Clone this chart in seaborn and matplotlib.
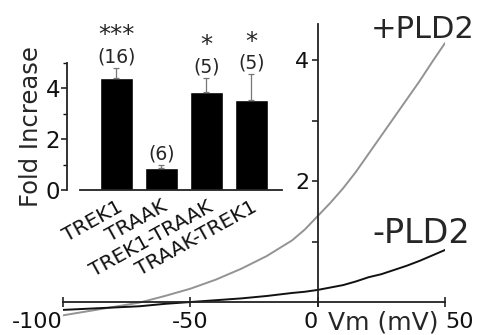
import matplotlib
matplotlib.use("Agg")
import matplotlib.pyplot as plt
import pandas as pd
import seaborn as sns

# I-V traces (mV, current in arbitrary units)
voltage = [-100, -90, -80, -70, -60, -50, -40, -30, -20, -10, -5, 0,
           5, 10, 15, 20, 25, 30, 35, 40, 45, 50]
plus_pld2 = [-0.22, -0.15, -0.08, -0.01, 0.10, 0.22, 0.37, 0.55, 0.76, 1.02, 1.20, 1.42,
             1.64, 1.88, 2.15, 2.45, 2.75, 3.05, 3.35, 3.65, 3.97, 4.28]
minus_pld2 = [-0.13, -0.11, -0.09, -0.07, -0.03, 0.00, 0.03, 0.06, 0.10, 0.15, 0.17, 0.20,
              0.24, 0.28, 0.34, 0.41, 0.46, 0.53, 0.60, 0.68, 0.77, 0.86]

# inset bar chart
constructs = ["TREK1", "TRAAK", "TREK1-TRAAK", "TRAAK-TREK1"]
fold_increase = [4.4, 0.86, 3.85, 3.55]
fold_sem = [0.4, 0.12, 0.55, 1.0]
n_cells = ["(16)", "(6)", "(5)", "(5)"]
significance = ["***", "", "*", "*"]

sns.set_theme(style="white")
plt.rcParams["font.family"] = ["DejaVu Sans"]

fig = plt.figure(figsize=(4.82, 3.35), dpi=100)

# main I-V plot
ax = fig.add_axes([0.1307, 0.0352, 0.7925, 0.894])
ax.patch.set_alpha(0)
traces = pd.DataFrame({
    "Vm": voltage + voltage,
    "I": plus_pld2 + minus_pld2,
    "cond": ["+PLD2"] * len(voltage) + ["-PLD2"] * len(voltage),
})
sns.lineplot(data=traces, x="Vm", y="I", hue="cond",
             palette={"+PLD2": "#939393", "-PLD2": "#111111"},
             linewidth=1.4, legend=False, ax=ax)
ax.set_xlim(-100, 50)
ax.set_ylim(-0.35, 4.6)
ax.set_xlabel("")
ax.set_ylabel("")
for side in ["top", "right"]:
    ax.spines[side].set_visible(False)
ax.spines["left"].set_position(("data", 0))
ax.spines["bottom"].set_position(("data", 0))
ax.spines["left"].set_bounds(-0.06, 4.6)
for side in ["left", "bottom"]:
    ax.spines[side].set_color("#222222")
    ax.spines[side].set_linewidth(1.3)

ax.set_xticks([-100, -50, 0, 50])
ax.set_xticklabels(["-100", "-50", "0", "50"])
for lab, ha in zip(ax.get_xticklabels(), ["right", "center", "right", "left"]):
    lab.set_ha(ha)
ax.set_yticks([1, 2, 3, 4])
ax.set_yticklabels(["", "2", "", "4"])
ax.tick_params(axis="x", direction="inout", length=7, width=1.1, pad=4,
               labelsize=16, bottom=True, colors="#111111")
ax.tick_params(axis="y", direction="out", length=4, width=1.1, pad=2,
               labelsize=16, left=True, colors="#111111")

ax.text(4, -0.46, "Vm (mV)", fontsize=18, ha="left", va="baseline")
ax.text(21, 4.36, "+PLD2", fontsize=22, ha="left", va="baseline")
ax.text(21.5, 0.97, "-PLD2", fontsize=24, ha="left", va="baseline")

# inset bar chart
ins = fig.add_axes([0.139, 0.4328, 0.4461, 0.379])
ins.patch.set_alpha(0)
bars = pd.DataFrame({"construct": constructs, "fold": fold_increase})
sns.barplot(data=bars, x="construct", y="fold", color="black", saturation=1,
            width=0.73, errorbar=None, ax=ins)
ins.errorbar(range(len(constructs)), fold_increase,
             yerr=[[0] * len(constructs), fold_sem], fmt="none",
             ecolor="#777777", elinewidth=0.9, capsize=2, capthick=0.9)
ins.set_xlim(-1.1, 3.68)
ins.set_ylim(0, 5)
ins.set_xlabel("")
ins.set_ylabel("Fold Increase", fontsize=17.5, labelpad=2)
for side in ["top", "right"]:
    ins.spines[side].set_visible(False)
ins.spines["bottom"].set_bounds(-0.81, 3.68)
for side in ["left", "bottom"]:
    ins.spines[side].set_color("#222222")
    ins.spines[side].set_linewidth(1.3)
ins.set_yticks([0, 2, 4])
ins.set_yticks([1, 3, 5], minor=True)
ins.tick_params(axis="y", which="major", direction="out", length=4, width=1.1,
                pad=1, labelsize=16.5, left=True, colors="#111111")
ins.tick_params(axis="y", which="minor", direction="out", length=3, width=1.0,
                left=True, colors="#111111")
ins.tick_params(axis="x", length=0, pad=5, colors="#111111")
ins.set_xticks(range(len(constructs)))
ins.set_xticklabels(constructs, rotation=29, ha="right",
                    rotation_mode="anchor", fontsize=14.5)

for i, (top, err) in enumerate(zip(fold_increase, fold_sem)):
    ins.annotate(n_cells[i], (i, top + err), xytext=(0, 1.5),
                 textcoords="offset points", ha="center", va="bottom",
                 fontsize=13.5, annotation_clip=False)
    if significance[i]:
        ins.annotate(significance[i], (i, top + err), xytext=(0, 15),
                     textcoords="offset points", ha="center", va="bottom",
                     fontsize=17.5, annotation_clip=False)

fig.savefig("out.png", dpi=100)
